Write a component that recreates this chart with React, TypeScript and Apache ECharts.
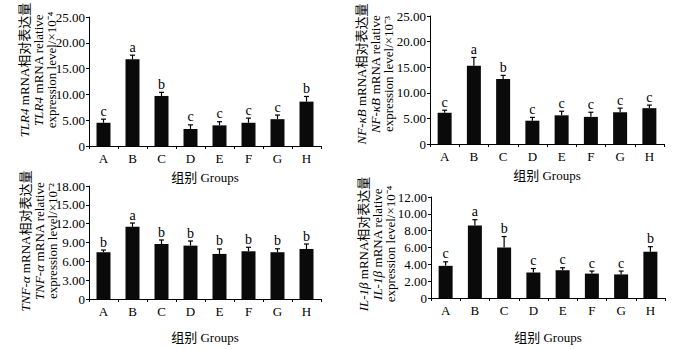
import React, { useEffect, useRef } from "react";
import * as echarts from "echarts";

const categories = ["A", "B", "C", "D", "E", "F", "G", "H"];

const tlr4Mean = [4.5, 16.8, 9.7, 3.3, 4.0, 4.5, 5.2, 8.6];
const tlr4Err = [0.7, 0.8, 0.7, 0.8, 0.7, 0.9, 0.8, 1.0];
const tlr4Letters = ["c", "a", "b", "c", "c", "c", "c", "b"];

const nfkbMean = [6.1, 15.3, 12.7, 4.55, 5.6, 5.3, 6.2, 7.0];
const nfkbErr = [0.5, 1.6, 0.7, 0.65, 0.8, 0.9, 0.8, 0.6];
const nfkbLetters = ["c", "a", "b", "c", "c", "c", "c", "c"];

const tnfMean = [7.45, 11.5, 8.76, 8.5, 7.18, 7.6, 7.45, 7.97];
const tnfErr = [0.35, 0.6, 0.64, 0.74, 0.79, 0.64, 0.55, 0.79];
const tnfLetters = ["b", "a", "b", "b", "b", "b", "b", "b"];

const il1bMean = [3.82, 8.6, 6.0, 3.03, 3.3, 2.9, 2.8, 5.5];
const il1bErr = [0.48, 0.7, 1.3, 0.47, 0.3, 0.3, 0.4, 0.6];
const il1bLetters = ["c", "a", "b", "c", "c", "c", "c", "b"];

const yMax = [25, 25, 18, 12];
const yInterval = [5, 5, 3, 2];

const SERIF = "'Liberation Serif', 'Times New Roman', 'Noto Sans CJK SC', serif";

const panels = [
  { mean: tlr4Mean, err: tlr4Err, letters: tlr4Letters, gene: "TLR4", exp: "⁻⁴" },
  { mean: nfkbMean, err: nfkbErr, letters: nfkbLetters, gene: "NF-κB", exp: "⁻³" },
  { mean: tnfMean, err: tnfErr, letters: tnfLetters, gene: "TNF-α", exp: "⁻²" },
  { mean: il1bMean, err: il1bErr, letters: il1bLetters, gene: "IL-1β", exp: "⁻⁴" },
];

const grids = [
  { left: 89, top: 17, width: 232, height: 129 },
  { left: 430, top: 16, width: 234, height: 128 },
  { left: 89, top: 186, width: 232, height: 113 },
  { left: 431, top: 197, width: 234, height: 101 },
];
const xNameGap = [25, 25, 32, 33];
const yTitlePos = [
  [38, 70],
  [375, 74],
  [39, 241],
  [377, 244],
];

export default function App() {
  const ref = useRef<HTMLDivElement>(null);
  useEffect(() => {
    if (!ref.current) return;
    const chart = echarts.init(ref.current, null, { renderer: "svg" });
    const black = "#000";
    const option: any = {
      animation: false,
      backgroundColor: "#fff",
      grid: grids.map((g) => ({ ...g, containLabel: false })),
      xAxis: panels.map((p, i) => ({
        type: "category",
        gridIndex: i,
        data: categories,
        name: "组别 Groups",
        nameLocation: "middle",
        nameGap: xNameGap[i],
        nameTextStyle: { color: black, fontFamily: SERIF, fontSize: 13 },
        axisLine: { lineStyle: { color: black, width: 1 } },
        axisTick: { show: true, length: 3, lineStyle: { color: black } },
        axisLabel: { color: black, fontFamily: SERIF, fontSize: 13, margin: 6 },
      })),
      yAxis: panels.map((p, i) => ({
        type: "value",
        gridIndex: i,
        min: 0,
        max: yMax[i],
        interval: yInterval[i],
        splitLine: { show: false },
        axisLine: { show: true, lineStyle: { color: black, width: 1 } },
        axisTick: { show: true, length: 3, lineStyle: { color: black } },
        axisLabel: {
          color: black,
          fontFamily: SERIF,
          fontSize: 13,
          margin: 4,
          formatter: (v: number) => (v === 0 ? "0" : v.toFixed(2)),
        },
      })),
      series: [
        ...panels.map((p, i) => ({
          type: "bar",
          xAxisIndex: i,
          yAxisIndex: i,
          data: p.mean,
          barWidth: 14,
          itemStyle: { color: "#0a0a0a" },
        })),
        ...panels.map((p, i) => ({
          type: "custom",
          xAxisIndex: i,
          yAxisIndex: i,
          z: 5,
          data: p.mean.map((m, k) => [k, m, p.err[k]]),
          encode: { x: 0, y: 1 },
          renderItem: (params: any, api: any) => {
            const idx = api.value(0);
            const m = api.value(1);
            const e = api.value(2);
            const p0 = api.coord([idx, m]);
            const p1 = api.coord([idx, m + e]);
            return {
              type: "group",
              children: [
                {
                  type: "line",
                  shape: { x1: p0[0], y1: p0[1], x2: p1[0], y2: p1[1] },
                  style: { stroke: black, lineWidth: 1.2 },
                },
                {
                  type: "line",
                  shape: { x1: p1[0] - 2.5, y1: p1[1], x2: p1[0] + 2.5, y2: p1[1] },
                  style: { stroke: black, lineWidth: 1.2 },
                },
                {
                  type: "text",
                  x: p1[0],
                  y: p1[1] - 1,
                  style: {
                    text: p.letters[params.dataIndex],
                    align: "center",
                    verticalAlign: "bottom",
                    fontFamily: SERIF,
                    fontSize: 14,
                    fill: black,
                  },
                },
              ],
            };
          },
        })),
      ],
      graphic: panels.map((p, i) => ({
        type: "text",
        x: yTitlePos[i][0],
        y: yTitlePos[i][1],
        rotation: Math.PI / 2,
        style: {
          text:
            "{i|" + p.gene + "}{n| mRNA相对表达量}\n{i|" + p.gene + "}{n| mRNA relative}\n{n|expression level/×10" + p.exp + "}",
          align: "center",
          verticalAlign: "middle",
          fill: black,
          fontFamily: SERIF,
          fontSize: 13,
          lineHeight: 13.5,
          rich: {
            i: { fontStyle: "italic", fontFamily: SERIF, fontSize: 13, lineHeight: 13.5, fill: black },
            n: { fontFamily: SERIF, fontSize: 13, lineHeight: 13.5, fill: black },
          },
        },
      })),
    };
    chart.setOption(option);
    return () => chart.dispose();
  }, []);
  return (
    <div
      ref={ref}
      style={{ position: "fixed", left: 0, top: 0, width: 700, height: 349, background: "#fff" }}
    />
  );
}
